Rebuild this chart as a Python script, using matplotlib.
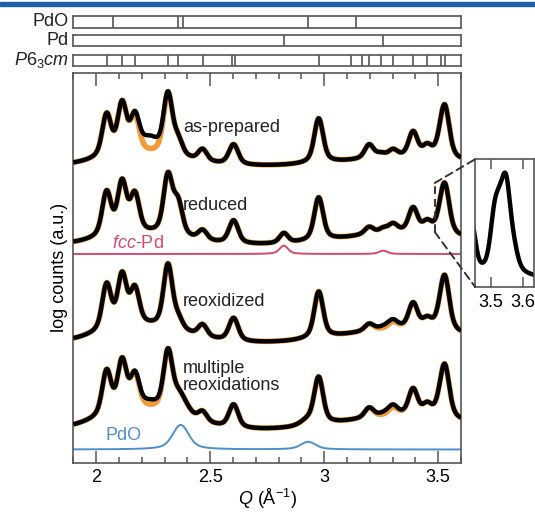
import numpy as np
import matplotlib.pyplot as plt
from matplotlib.patches import ConnectionPatch, Rectangle
from matplotlib.ticker import MultipleLocator, FormatStrFormatter

plt.rcParams["font.family"] = ["Liberation Sans", "DejaVu Sans"]
plt.rcParams["mathtext.fontset"] = "custom"
plt.rcParams["mathtext.rm"] = "Liberation Sans"
plt.rcParams["mathtext.it"] = "Liberation Sans:italic"
plt.rcParams["font.size"] = 13

# reflection positions (Q, 1/Å)
pdo_refl = [2.075, 2.359, 2.381, 2.930, 3.139]
pd_refl = [2.823, 3.259]
p63cm_refl = [2.046, 2.114, 2.170, 2.315, 2.359, 2.467, 2.597, 2.607, 2.976,
              3.117, 3.165, 3.197, 3.248, 3.302, 3.390, 3.452, 3.511, 3.530]

# calculated single-phase patterns (log counts, a.u.)
pdo_ref_heights = [0, 12, 14, 7.6, 0]
pdo_ref_base = 13
pd_ref_heights = [8.3, 3.3]
pd_ref_base = 208.5

# P6_3cm peak heights for each sample (same order as p63cm_refl)
as_prepared = [42, 50, 36, 62, 15, 12, 9, 12, 45, 0, 0, 14, 3.5, 7, 25, 10, 10, 48]
reduced = [44, 51, 38, 59, 32, 10, 10, 14, 43.6, 0, 0, 7.3, 0, 8, 24, 9.5, 10, 45.6]
reoxidized = [45.5, 51, 36, 64.5, 10, 12, 10, 14, 47, 0, 0, 7, 0, 6, 25, 8.6, 10, 50]
multiple = [44, 49.6, 33.5, 59.5, 5, 10, 10, 14, 46.8, 0, 0, 10, 0, 7.5, 26, 9.8, 10, 48]

samples = ["as-prepared", "reduced", "reoxidized", "multiple\nreoxidations"]
sample_heights = [as_prepared, reduced, reoxidized, multiple]
sample_base = [296, 217, 119, 32]
hump_low = [10, 9, 15, 18]     # broad background near 2.2
hump_high = [8, 12, 14, 14]    # broad background near 3.35
pd_fraction = [0, 1.2, 0, 0]
pdo_fraction = [0, 0, 0, 0.65]
# extra intensity in the data not captured by the fit: (Q, height)
misfit = [[(2.235, 13)], [], [(3.28, 3)], [(2.235, 5), (3.28, 3)]]
label_y = [335.5, 257.5, 161, 85.5]

# zoomed region of the reduced pattern
inset_peaks = [3.440, 3.512, 3.530, 3.548, 3.570]
inset_heights = [55, 50, 40, 75, 18]
inset_base = 8


def profile(q, centers, heights, w):
    d = q[:, None] - np.asarray(centers)[None, :]
    gauss = np.exp(-np.log(2) * (d / w) ** 2)
    lorentz = 1 / (1 + (d / (1.5 * w)) ** 2)
    return (0.6 * gauss + 0.4 * lorentz) @ np.asarray(heights, dtype=float)


def hump(q, c, s):
    return np.exp(-((q - c) ** 2) / (2 * s**2))


q = np.linspace(1.9, 3.6, 1500)
edge = "#555555"

fig = plt.figure(figsize=(5.35, 5.12), dpi=100)
fig.patches.append(Rectangle((0, 1 - 6 / 512), 1, 4.5 / 512, transform=fig.transFigure,
                             color="#1b62a5", zorder=0))

ax = fig.add_axes([73.3 / 535, 49.5 / 512, 387.7 / 535, 389.5 / 512])

for i, name in enumerate(samples):
    fit = (sample_base[i] + hump_low[i] * hump(q, 2.2, 0.18)
           + hump_high[i] * hump(q, 3.35, 0.25)
           + profile(q, p63cm_refl, sample_heights[i], 0.021))
    fit += pd_fraction[i] * profile(q, pd_refl, pd_ref_heights, 0.02)
    fit += pdo_fraction[i] * profile(q, pdo_refl, pdo_ref_heights, 0.035)
    data = fit.copy()
    for qc, amp in misfit[i]:
        data += amp * hump(q, qc, 0.035)
    ax.plot(q, fit, color="#f29b38", lw=4.0, zorder=2, solid_capstyle="butt")
    ax.plot(q, data, color="black", lw=3.2, zorder=3, solid_capstyle="butt")
    ax.text(2.38, label_y[i], name, ha="left", va="center", color="#222222",
            linespacing=1.0, zorder=5)

pd_curve = pd_ref_base + profile(q, pd_refl, pd_ref_heights, 0.02)
pdo_curve = pdo_ref_base + profile(q, pdo_refl, pdo_ref_heights, 0.035)
ax.plot(q, pd_curve, color="#d24a6e", lw=1.4, zorder=2)
ax.plot(q, pdo_curve, color="#4d8fcb", lw=1.4, zorder=2)
ax.text(2.07, 219.5, r"$\mathit{fcc}$-Pd", color="#d24a6e", ha="left", va="center")
ax.text(2.04, 27.5, "PdO", color="#4d8fcb", ha="left", va="center")

ax.set_xlim(1.9, 3.6)
ax.set_ylim(0, 389.5)
ax.set_yticks([])
ax.xaxis.set_major_locator(MultipleLocator(0.5))
ax.xaxis.set_minor_locator(MultipleLocator(0.1))
ax.xaxis.set_major_formatter(FormatStrFormatter("%g"))
ax.tick_params(axis="x", which="both", direction="in", top=True, color=edge, pad=5)
ax.tick_params(axis="x", which="major", length=9, width=1.1)
ax.tick_params(axis="x", which="minor", length=4.5, width=1.1)
for s in ax.spines.values():
    s.set_color(edge)
    s.set_linewidth(1.2)
ax.set_xlabel(r"$\mathit{Q}$ (Å$^{-1}$)", labelpad=0)
ax.set_ylabel("log counts (a.u.)", labelpad=4)

# reflection tick panels above the patterns
panels = [("PdO", pdo_refl, 16, 28), ("Pd", pd_refl, 35, 46),
          (r"$\mathit{P6_3cm}$", p63cm_refl, 55, 66)]
for label, refl, top, bottom in panels:
    pax = fig.add_axes([73.3 / 535, (512 - bottom) / 512, 387.7 / 535, (bottom - top) / 512])
    pax.vlines(refl, 0, 1, color=edge, lw=1.2)
    pax.set_xlim(1.9, 3.6)
    pax.set_ylim(0, 1)
    pax.set_xticks([])
    pax.set_yticks([])
    for s in pax.spines.values():
        s.set_color(edge)
        s.set_linewidth(1.2)
    pax.text(-0.012, 0.5, label, transform=pax.transAxes, ha="right", va="center",
             color="#222222")

# inset: close-up of the reduced pattern
axins = fig.add_axes([475 / 535, (512 - 286.7) / 512, 59 / 535, 127.4 / 512])
qi = np.linspace(3.44, 3.64, 400)
axins.plot(qi, inset_base + profile(qi, inset_peaks, inset_heights, 0.014),
           color="black", lw=3.2)
axins.set_xlim(3.452, 3.633)
axins.set_ylim(0, 127.4)
axins.set_yticks([])
axins.set_xticks([3.5, 3.6])
axins.xaxis.set_major_formatter(FormatStrFormatter("%g"))
axins.tick_params(axis="x", direction="in", top=True, length=7, width=1.1, color=edge, pad=5)
for s in axins.spines.values():
    s.set_color(edge)
    s.set_linewidth(1.2)

zoom_q, zoom_lo, zoom_hi = 3.485, 230.5, 279.5
ax.plot([zoom_q, zoom_q], [zoom_lo, zoom_hi], color="#333333", lw=1.4,
        ls=(0, (4, 2.5)), zorder=4)
for ya, yb in [(zoom_hi, 1), (zoom_lo, 0)]:
    con = ConnectionPatch(xyA=(zoom_q, ya), coordsA=ax.transData,
                          xyB=(0, yb), coordsB=axins.transAxes,
                          color="#333333", lw=1.4, ls=(0, (4, 2.5)))
    fig.add_artist(con)

fig.savefig("out.png", dpi=100)
